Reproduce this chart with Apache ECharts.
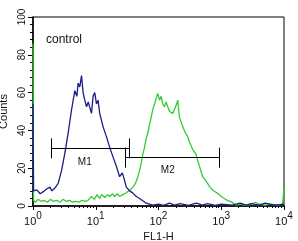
<!DOCTYPE html>
<html><head><meta charset="utf-8">
<script src="https://cdn.jsdelivr.net/npm/echarts@6/dist/echarts.min.js"></script>
<style>html,body{margin:0;padding:0;background:#fff}#c{width:298px;height:241px}</style>
</head><body><div id="c"></div>
<script>
const xTicks = [1, 10, 100, 1000, 10000];
const yTicks = [0, 20, 40, 60, 80, 100];
const blue = [[1.0,54],[1.02,8],[1.15,8.5],[1.3,6.5],[1.46,7.6],[1.65,9],[1.86,10],[2.0,8],[2.23,9.5],[2.52,12],[2.86,19],[3.22,28],[3.63,38.6],[4.11,50.8],[4.64,61],[5.0,58],[5.24,65],[5.57,63],[5.93,69],[6.29,60],[6.69,56],[7.12,52.5],[7.6,55],[8.03,56],[8.55,49],[9.06,58],[9.64,60],[10.26,54],[10.88,56],[11.57,49],[13.06,42],[14.79,36.7],[16.68,31],[18.83,26],[21.3,21],[24.0,15.5],[26.5,17.5],[28,15],[30.7,10],[34.7,8],[39.1,6.8],[44.3,5],[49.9,4],[63.8,1.5],[80.3,0.5],[100,1],[120,0.3],[150,1.5],[180,0.5],[220,1.2],[300,0.3],[400,1.5],[500,0.5],[600,1.2],[800,0.3],[1000,1],[1500,0.5],[2000,1.5],[2500,0.5],[3000,1.2],[4000,0.5],[5000,1.5],[7000,0.5],[10000,1]];
const green = [[1.0,86],[1.02,3],[1.1,2],[1.2,3.5],[1.35,2.5],[1.5,3],[1.7,2],[1.9,3.5],[2.1,2.5],[2.4,3],[2.7,2],[3.0,3.5],[3.4,2.5],[3.8,3],[4.3,2],[4.8,2.5],[5.4,2],[6.0,3],[6.8,2.5],[7.5,3],[8.5,5],[9.5,3.5],[10.5,6],[11.5,4],[12.5,6],[14,4.5],[15.5,6],[16.7,5],[18.5,6.5],[20,5],[22,6.5],[24,5],[27,6],[30.7,7],[35,8.5],[39.1,10],[43,12],[46.9,15.5],[50,19],[53.1,22.7],[56,27],[59.9,31],[63,35],[67.6,38.6],[72,43],[76.6,47],[81,51],[86.4,54],[92,57],[97.5,59.6],[103.7,56],[110.4,58],[117,54],[124.5,52.5],[132,55],[140.6,54],[150,50],[159,51],[168,49],[179.5,51],[190,53],[202.5,56],[215.5,47],[243,42],[265,39],[291.7,36.7],[310,34],[330,33],[350,30],[372.6,29.6],[400,27],[420.7,24],[460,20],[505,15.5],[550,14],[606,12],[660,10],[727,8.5],[800,7.5],[873,6.7],[1000,5],[1116,4],[1250,3],[1426,2.3],[1711,0.5],[2000,1],[2500,0.3],[3000,1],[3500,2],[4000,1],[5000,0.5],[6000,1],[8000,0.5],[9500,1],[10000,10]];
const gates = [
  {name:'M1', from:1.93, to:33.8, level:30.5, half:5.3, labelX:6.69, labelY:23.4},
  {name:'M2', from:29.9, to:929, level:25.6, half:5.3, labelX:140.6, labelY:18.7}
];
const markData = [];
const labelData = [];
gates.forEach(g => {
  markData.push([{coord:[g.from,g.level]},{coord:[g.to,g.level]}]);
  markData.push([{coord:[g.from,g.level-g.half]},{coord:[g.from,g.level+g.half]}]);
  markData.push([{coord:[g.to,g.level-g.half]},{coord:[g.to,g.level+g.half]}]);
  labelData.push({coord:[g.labelX,g.labelY], value:g.name});
});
const chart = echarts.init(document.getElementById('c'), null, {renderer:'canvas'});
const font = 'Liberation Sans, Arial, sans-serif';
chart.setOption({
  animation:false,
  backgroundColor:'#fff',
  textStyle:{fontFamily:font},
  graphic:[{type:'text', left:46, top:34, style:{text:'control', font:'12px Liberation Sans, Arial', fill:'#111'}}],
  grid:{left:33, right:14, top:17, bottom:35, containLabel:false, outerBoundsMode:'none', show:true, borderColor:'#000', borderWidth:1, backgroundColor:'transparent'},
  xAxis:{type:'log', min:xTicks[0], max:xTicks[xTicks.length-1], logBase:10,
    name:'FL1-H', nameLocation:'middle', nameGap:22, nameTextStyle:{fontSize:11, color:'#111', fontFamily:font},
    axisLine:{lineStyle:{color:'#000', width:1.5}},
    axisTick:{show:true, length:4, lineStyle:{color:'#000'}},
    minorTick:{show:true, length:2, splitNumber:10, lineStyle:{color:'#000'}},
    splitLine:{show:false},
    axisLabel:{margin:4, color:'#111', formatter:v => '{b|10}{s|' + Math.round(Math.log10(v)) + '}',
      rich:{b:{fontSize:11, fontFamily:font, color:'#111', padding:[6,0,0,0]}, s:{fontSize:10, fontFamily:font, color:'#111', padding:[0,0,4,0]}}}
  },
  yAxis:{type:'value', min:yTicks[0], max:yTicks[yTicks.length-1], interval:20,
    name:'Counts', nameLocation:'middle', nameGap:24, nameTextStyle:{fontSize:11, color:'#111', fontFamily:font},
    axisLine:{show:true, lineStyle:{color:'#000', width:1.5}},
    axisTick:{show:true, length:5, lineStyle:{color:'#000'}},
    minorTick:{show:true, length:3, splitNumber:5, lineStyle:{color:'#000'}},
    splitLine:{show:false},
    axisLabel:{rotate:90, margin:6, fontSize:10, color:'#111', fontFamily:font}
  },
  series:[
    {type:'line', data:green, showSymbol:false, symbol:'none', clip:false, lineStyle:{color:'#33cc33', width:1.3}, z:2},
    {type:'line', data:blue, showSymbol:false, symbol:'none', clip:false, lineStyle:{color:'#1c1c88', width:1.3}, z:3,
      markLine:{silent:true, symbol:['none','none'], label:{show:false}, lineStyle:{color:'#000', width:1, type:'solid'}, data:markData},
      markPoint:{symbol:'circle', symbolSize:0, label:{show:true, position:'inside', formatter:p=>p.value, fontSize:10, color:'#111', fontFamily:font}, data:labelData}
    }
  ]
});
</script></body></html>
